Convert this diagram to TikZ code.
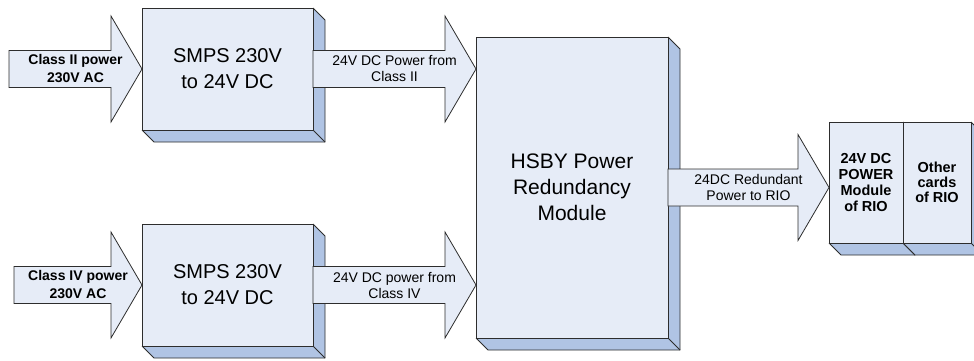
\documentclass[tikz,border=0pt]{standalone}
\usepackage{fontspec}
\setmainfont{Liberation Sans}
\usetikzlibrary{calc,backgrounds}

\definecolor{facefill}{RGB}{230,236,247}
\definecolor{sidefill}{RGB}{176,196,228}
\definecolor{edgegray}{RGB}{45,45,45}

% depth of a block, drawn below and right of its front face
\newcommand\slab[1]{%
  \fill[sidefill] (#1.north east) -- ++(12,-12) -- ($(#1.south east)+(12,-12)$)
    -- ($(#1.south west)+(12,-12)$) -- (#1.south west) -- (#1.south east) -- cycle;
  \draw[slabline] (#1.north east) -- ++(12,-12) -- ($(#1.south east)+(12,-12)$)
    -- ($(#1.south west)+(12,-12)$) -- (#1.south west);
  \draw[slabline] (#1.south east) -- ++(12,-12);
}

% wide arrow: style, tail, tip, name, text
\newcommand\bigarrow[5]{%
  \coordinate (#4tip) at (#3);
  \draw[arrowbody] let \p1=(#2), \p2=(#4tip) in
    (\x1,\y2+18.5pt) -- (\x2-31pt,\y2+18.5pt) -- (\x2-31pt,\y2+53pt) -- (\x2,\y2)
    -- (\x2-31pt,\y2-53pt) -- (\x2-31pt,\y2-18.5pt) -- (\x1,\y2-18.5pt) -- cycle;
  \node[#1] (#4) at ($(#2)!0.5!(#4tip)$) {#5};
}

\begin{document}
\begin{tikzpicture}[
        x=1pt, y=1pt,
        box/.style={draw=edgegray, fill=facefill, line width=1pt, align=center, inner sep=0pt, outer sep=0pt},
        slabline/.style={draw=edgegray, line width=0.8pt},
        arrowbody/.style={draw=edgegray, fill=facefill, line width=0.8pt},
        arrowtext/.style={align=center, inner sep=0pt, font=\fontsize{14}{16}\selectfont},
        inlabel/.style={align=center, inner sep=0pt, font=\bfseries\fontsize{14}{18}\selectfont}
    ]
    \useasboundingbox (0,0) rectangle (974,360);

    \node[box, minimum width=171pt, minimum height=122pt, font=\fontsize{20}{26}\selectfont]
        (smpsA) at (227.5,291) {SMPS 230V\\to 24V DC};
    \node[box, minimum width=171pt, minimum height=122pt, font=\fontsize{20}{26}\selectfont]
        (smpsB) at (227.5,75) {SMPS 230V\\to 24V DC};
    \node[box, minimum width=192pt, minimum height=301pt, font=\fontsize{21}{26}\selectfont]
        (hsby) at (572,172.5) {HSBY Power\\Redundancy\\Module};
    \node[box, minimum width=74pt, minimum height=121pt, font=\bfseries\fontsize{14.5}{16}\selectfont]
        (rioA) at (866,177.5) {24V DC\\POWER\\Module\\of RIO};
    \node[box, minimum width=68pt, minimum height=121pt, anchor=west, font=\bfseries\fontsize{14.5}{15}\selectfont]
        (rioB) at (rioA.east) {Other\\cards\\of RIO};

    \begin{scope}[on background layer]
        \slab{smpsA}
        \slab{smpsB}
        \slab{hsby}
        \slab{rioA}
        \slab{rioB}
    \end{scope}

    \coordinate (inA) at (9,291);
    \coordinate (inB) at (14,75);
    \bigarrow{inlabel}{inA}{smpsA.west}{feedA}{Class II power\\230V AC}
    \bigarrow{inlabel}{inB}{smpsB.west}{feedB}{Class IV power\\230V AC}
    \bigarrow{arrowtext}{smpsA.east}{hsby.west |- smpsA.east}{dcA}{24V DC Power from\\Class II}
    \bigarrow{arrowtext}{smpsB.east}{hsby.west |- smpsB.east}{dcB}{24V DC power from\\Class IV}
    \bigarrow{arrowtext}{hsby.east}{rioA.west |- hsby.east}{dcOut}{24DC Redundant\\Power to RIO}

\end{tikzpicture}
\end{document}
